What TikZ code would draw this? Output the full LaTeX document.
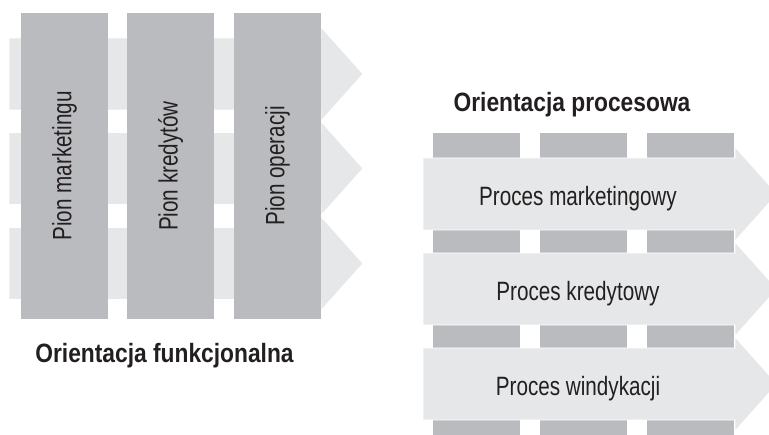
\documentclass[tikz,border=0pt]{standalone}
\usepackage{fontspec}
\setmainfont{Liberation Sans}[FakeStretch=0.78]
\newfontfamily\headfont{Liberation Sans}[FakeStretch=0.86]
\usepackage{xcolor}
\definecolor{pillargray}{RGB}{186,187,190}
\definecolor{bandgray}{RGB}{230,231,232}
\definecolor{inkblack}{RGB}{35,31,32}

\tikzset{
  pillar/.style={fill=pillargray, inner sep=0pt},
  band/.style={fill=bandgray, draw=white, line width=0.8pt},
  bandtext/.style={text=inkblack, font=\fontsize{26.5}{30}\selectfont, inner sep=0pt},
  heading/.style={text=inkblack, font=\headfont\bfseries\fontsize{26.5}{30}\selectfont, inner sep=0pt}
}

\begin{document}
\begin{tikzpicture}[x=1pt,y=-1pt]
  \clip (0,0) rectangle (769,435);

  % functional view: arrows run behind the pillars
  \foreach \y in {74,168.5,263.5}
    \draw[band] (9,\y-36) -- (321,\y-36) -- (321,\y-47) -- (363,\y)
      -- (321,\y+47) -- (321,\y+36) -- (9,\y+36) -- cycle;
  \node[pillar, bandtext, rotate=90, minimum width=306, minimum height=87]
    (marketing) at (64.5,166) {Pion marketingu};
  \node[pillar, bandtext, rotate=90, minimum width=306, minimum height=87]
    (kredyty) at (170.5,166) {Pion kredytów};
  \node[pillar, bandtext, rotate=90, minimum width=306, minimum height=87]
    (operacje) at (277.5,166) {Pion operacji};
  \node[heading, anchor=base] (funkcjonalna) at (164.5,363) {Orientacja funkcjonalna};

  % process view: pillars behind the arrows
  \foreach \x in {433,540,647}
    \fill[pillargray] (\x,133) rectangle ++(87,310);
  \foreach \y in {194,289,384}
    \draw[band] (423,\y-36) -- (735,\y-36) -- (735,\y-47) -- (777,\y)
      -- (735,\y+47) -- (735,\y+36) -- (423,\y+36) -- cycle;
  \node[bandtext, anchor=base] (pmark) at (578,206) {Proces marketingowy};
  \node[bandtext, anchor=base] (pkred) at (578,301) {Proces kredytowy};
  \node[bandtext, anchor=base] (pwind) at (578,396) {Proces windykacji};
  \node[heading, anchor=base] (procesowa) at (572,112) {Orientacja procesowa};
\end{tikzpicture}
\end{document}
